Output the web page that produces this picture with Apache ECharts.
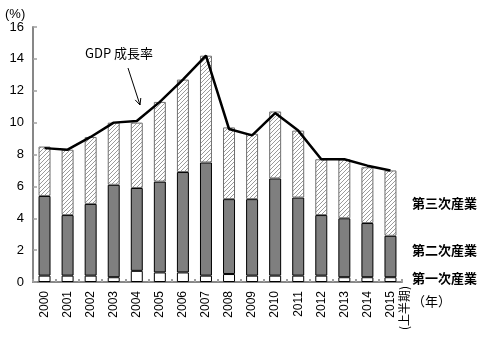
<!DOCTYPE html>
<html><head><meta charset="utf-8">
<script src="https://cdn.jsdelivr.net/npm/echarts@6/dist/echarts.min.js"></script>
<style>html,body{margin:0;padding:0;background:#fff}#c{width:487px;height:338px}</style>
</head><body><div id="c"></div>
<script>
const years = ['2000','2001','2002','2003','2004','2005','2006','2007','2008','2009','2010','2011','2012','2013','2014','2015'];
const lastYearNote = '(上半期)';
const primary   = [0.4,0.4,0.4,0.3,0.7,0.6,0.6,0.4,0.5,0.4,0.4,0.4,0.4,0.3,0.3,0.3];
const secondary = [5.0,3.8,4.5,5.8,5.2,5.7,6.3,7.1,4.7,4.8,6.1,4.9,3.8,3.7,3.4,2.6];
const tertiary  = [3.1,4.1,4.2,3.9,4.1,5.0,5.8,6.7,4.5,4.1,4.2,4.2,3.5,3.7,3.5,4.1];
const gdp       = [8.4,8.3,9.1,10.0,10.1,11.3,12.7,14.2,9.6,9.2,10.6,9.5,7.7,7.7,7.3,7.0];
const yTicks = [0,2,4,6,8,10,12,14,16];

const pc = document.createElement('canvas');
pc.width = 4; pc.height = 4;
const g = pc.getContext('2d');
g.fillStyle = '#fff'; g.fillRect(0,0,4,4);
g.strokeStyle = '#9a9a9a'; g.lineWidth = 1;
g.beginPath();
g.moveTo(0,4); g.lineTo(4,0);
g.moveTo(-1,1); g.lineTo(1,-1);
g.moveTo(3,5); g.lineTo(5,3);
g.stroke();

const font = 'Liberation Sans';
const cjk = '"Noto Sans CJK JP"';
const chart = echarts.init(document.getElementById('c'), null, {renderer:'canvas'});
chart.setOption({
  animation:false,
  grid:{left:33,right:85,top:27,bottom:56,containLabel:false,outerBoundsMode:'none'},
  xAxis:{type:'category',data:years,
    axisLine:{lineStyle:{color:'#878787',width:2}},
    axisTick:{show:true,inside:true,length:3,lineStyle:{color:'#a0a0a0',width:2}},
    axisLabel:{rotate:90,margin:9,color:'#000',fontSize:12,fontFamily:font,interval:0}},
  yAxis:{type:'value',min:yTicks[0],max:yTicks[yTicks.length-1],interval:2,
    splitLine:{show:false},
    axisLine:{show:true,lineStyle:{color:'#878787',width:2}},
    axisTick:{show:true,inside:true,length:4,lineStyle:{color:'#a0a0a0',width:1.5}},
    axisLabel:{color:'#000',fontSize:13,fontFamily:font,margin:9}},
  series:[
    {type:'bar',stack:'a',data:primary,barWidth:'52%',itemStyle:{color:'#fff',borderColor:'#000',borderWidth:1}},
    {type:'bar',stack:'a',data:secondary,itemStyle:{color:'#7f7f7f',borderColor:'#000',borderWidth:1}},
    {type:'bar',stack:'a',data:tertiary,itemStyle:{color:{image:pc,repeat:'repeat'},borderColor:'#6f6f6f',borderWidth:1}},
    {type:'line',data:gdp,symbol:'none',z:5,lineStyle:{color:'#000',width:2.5}}
  ],
  graphic:[
    {type:'text',left:5,top:8,style:{text:'(%)',font:'13px '+font,fill:'#000'}},
    {type:'text',left:85,top:47,style:{text:'GDP 成長率',font:'13px '+cjk,fill:'#000'}},
    {type:'line',shape:{x1:128,y1:68,x2:140,y2:105},style:{stroke:'#000',lineWidth:1}},
    {type:'polyline',shape:{points:[[135.2,99.9],[140,105],[140.8,98]]},style:{stroke:'#000',lineWidth:1,fill:null}},
    {type:'text',x:404,y:308,rotation:Math.PI/2,style:{text:lastYearNote,font:'12px '+cjk,fill:'#000',align:'center',verticalAlign:'middle'}},
    {type:'text',left:412,top:197,style:{text:'第三次産業',font:'bold 13px '+cjk,fill:'#000'}},
    {type:'text',left:412,top:244,style:{text:'第二次産業',font:'bold 13px '+cjk,fill:'#000'}},
    {type:'text',left:412,top:272,style:{text:'第一次産業',font:'bold 13px '+cjk,fill:'#000'}},
    {type:'text',left:412,top:295,style:{text:'（年）',font:'13px '+cjk,fill:'#000'}}
  ]
});
</script></body></html>
